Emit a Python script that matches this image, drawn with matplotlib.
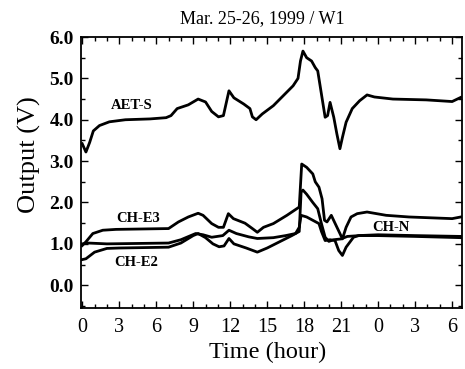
import matplotlib
matplotlib.use("Agg")
import matplotlib.pyplot as plt
from matplotlib.ticker import MultipleLocator, FuncFormatter

plt.rcParams["font.family"] = ["Liberation Serif", "DejaVu Serif"]

# hours from 0:00 on Mar. 25
aet_x = [0, 0.3, 0.6, 0.9, 1.4, 2.2, 3.5, 5.5, 6.8, 7.2, 7.7, 8.6, 9.4, 10.0, 10.5,
         11.05, 11.45, 11.9, 12.3, 13.1, 13.6, 13.8, 14.1, 14.6, 15.5, 16.3, 17.1,
         17.5, 17.7, 17.9, 18.2, 18.6, 18.9, 19.1, 19.4, 19.7, 19.9, 20.1, 20.4,
         20.65, 20.9, 21.1, 21.4, 21.9, 22.5, 23.1, 23.7, 25.2, 27.9, 30.0, 30.7]
aet_y = [3.42, 3.22, 3.45, 3.73, 3.86, 3.95, 4.0, 4.02, 4.05, 4.1, 4.27, 4.36, 4.5,
         4.43, 4.2, 4.07, 4.1, 4.7, 4.53, 4.38, 4.27, 4.07, 4.0, 4.14, 4.34, 4.58,
         4.82, 5.0, 5.42, 5.66, 5.5, 5.42, 5.26, 5.18, 4.62, 4.06, 4.1, 4.42, 4.06,
         3.66, 3.3, 3.57, 3.94, 4.27, 4.46, 4.6, 4.55, 4.5, 4.48, 4.44, 4.54]

e3_x = [0, 0.3, 0.86, 1.67, 2.74, 7.0, 7.8, 8.6, 9.4, 9.8, 10.5, 11.05, 11.45, 11.85,
        12.26, 13.2, 13.8, 14.2, 14.7, 15.5, 16.6, 17.6, 17.8, 18.2, 18.7, 18.9,
        19.2, 19.45, 19.65, 19.85, 20.2, 20.5, 20.9, 21.1, 21.4, 21.8, 22.3, 23.1,
        24.65, 26.5, 30.0, 30.7]
e3_y = [0.96, 1.05, 1.25, 1.33, 1.35, 1.37, 1.53, 1.65, 1.74, 1.69, 1.49, 1.4, 1.4,
        1.73, 1.61, 1.5, 1.37, 1.28, 1.4, 1.49, 1.69, 1.89, 2.93, 2.85, 2.69, 2.5,
        2.37, 2.09, 1.57, 1.53, 1.69, 1.5, 1.25, 1.12, 1.4, 1.65, 1.73, 1.77, 1.69,
        1.65, 1.61, 1.65]

n_x = [0, 0.5, 2.0, 7.0, 8.0, 9.2, 9.8, 10.5, 11.4, 11.9, 12.5, 13.5, 14.2, 15.5,
       16.5, 17.3, 17.6, 17.75, 18.2, 18.7, 19.2, 19.4, 19.7, 20.1, 20.5, 20.8, 21.1,
       21.4, 22.0, 22.4, 24.0, 27.0, 30.7]
n_y = [1.0, 1.02, 1.0, 1.02, 1.1, 1.25, 1.22, 1.16, 1.2, 1.33, 1.25, 1.17, 1.13, 1.15,
       1.2, 1.25, 1.4, 1.69, 1.65, 1.57, 1.49, 1.3, 1.08, 1.1, 1.08, 0.84, 0.72, 0.92,
       1.16, 1.2, 1.22, 1.2, 1.18]

e2_x = [0, 0.3, 1.0, 2.0, 3.0, 7.0, 8.0, 9.0, 9.4, 10.0, 10.6, 11.1, 11.5, 11.9, 12.3,
        13.3, 14.2, 15.0, 16.0, 17.0, 17.6, 17.75, 17.9, 18.2, 18.7, 19.1, 19.4, 19.7,
        20.0, 20.4, 21.0, 21.5, 22.5, 24.0, 27.0, 30.7]
e2_y = [0.62, 0.64, 0.8, 0.89, 0.9, 0.92, 1.02, 1.2, 1.25, 1.15, 1.0, 0.93, 0.95, 1.13,
        1.0, 0.9, 0.8, 0.9, 1.05, 1.2, 1.3, 2.25, 2.3, 2.2, 2.0, 1.85, 1.49, 1.16, 1.06,
        1.1, 1.12, 1.18, 1.2, 1.2, 1.18, 1.15]

labels = ["AET-S", "CH-E3", "CH-E2", "CH-N"]
label_pos = [(4.0, 4.34), (4.55, 1.61), (4.4, 0.55), (25.05, 1.39)]

fig = plt.figure(figsize=(4.65, 3.69), dpi=100)
ax = fig.add_axes([81 / 465, 61 / 369, 381 / 465, 271 / 369])

for xs, ys in [(aet_x, aet_y), (e3_x, e3_y), (n_x, n_y), (e2_x, e2_y)]:
    ax.plot(xs, ys, color="black", lw=2.0, solid_joinstyle="round")

for name, (lx, ly) in zip(labels, label_pos):
    ax.text(lx, ly, name, fontsize=10.5, fontweight="bold", ha="center", va="center")

ax.set_xlim(-0.1, 30.8)
ax.set_ylim(-0.55, 6.0)
ax.xaxis.set_major_locator(MultipleLocator(3))
ax.xaxis.set_minor_locator(MultipleLocator(1))
ax.yaxis.set_major_locator(MultipleLocator(1))
ax.yaxis.set_minor_locator(MultipleLocator(0.5))
ax.xaxis.set_major_formatter(FuncFormatter(lambda v, p: str(int(round(v)) % 24)))
ax.yaxis.set_major_formatter(FuncFormatter(lambda v, p: "%.1f" % v))
ax.tick_params(which="both", direction="in", top=True, right=True, width=1.0)
ax.tick_params(which="major", length=5)
ax.tick_params(which="minor", length=3)
ax.tick_params(axis="x", labelsize=14.5, pad=7)
ax.tick_params(axis="y", labelsize=14, pad=5)
for t in ax.get_yticklabels():
    t.set_fontweight("bold")
for s in ax.spines.values():
    s.set_linewidth(1.3)

fig.text(262 / 465, 1 - 19 / 369, "Mar. 25-26, 1999 / W1", fontsize=13,
         ha="center", va="center")
fig.text(268 / 465, 1 - 352 / 369, "Time (hour)", fontsize=17.5,
         ha="center", va="center")
fig.text(29 / 465, 1 - 155 / 369, "Output (V)", fontsize=19, rotation=90,
         ha="center", va="center")

fig.savefig("out.png", dpi=100)
